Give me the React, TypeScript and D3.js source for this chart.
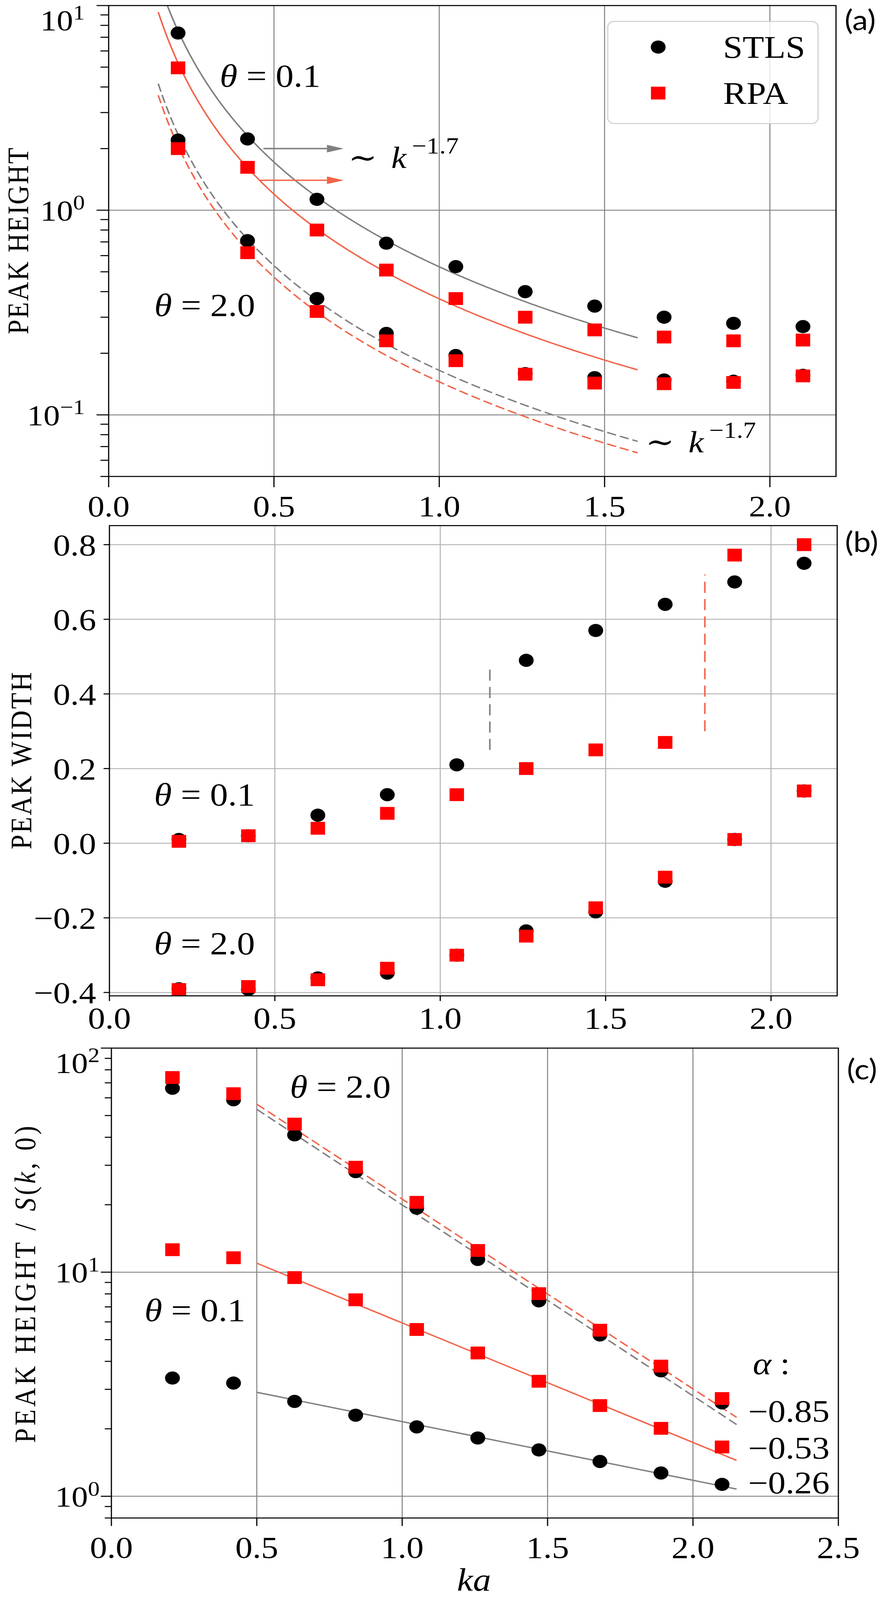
import React from 'react';
import * as d3 from 'd3';

// wave numbers of the ten simulated points (shared by all panels)
const ka = [0.21, 0.42, 0.63, 0.84, 1.05, 1.26, 1.47, 1.68, 1.89, 2.1];

// (a) peak height
const heightStlsT01 = [7.34, 2.23, 1.13, 0.69, 0.53, 0.4, 0.34, 0.3, 0.28, 0.27];
const heightRpaT01 = [4.96, 1.62, 0.8, 0.51, 0.37, 0.3, 0.26, 0.24, 0.23, 0.232];
const heightStlsT20 = [2.2, 0.71, 0.37, 0.25, 0.195, 0.159, 0.152, 0.148, 0.146, 0.156];
const heightRpaT20 = [2.0, 0.62, 0.32, 0.23, 0.184, 0.158, 0.143, 0.142, 0.144, 0.155];

// (a) power-law guides ~ k^-1.7, amplitude per curve
const guideExponent = -1.7;
const guideRange = [0.15, 1.6];
const guideAmpStlsT01 = 0.529;
const guideAmpRpaT01 = 0.369;
const guideAmpStlsT20 = 0.165;
const guideAmpRpaT20 = 0.145;

// (b) peak width
const widthStlsT01 = [0.01, 0.02, 0.075, 0.13, 0.21, 0.49, 0.57, 0.64, 0.7, 0.75];
const widthRpaT01 = [0.005, 0.02, 0.04, 0.08, 0.13, 0.2, 0.25, 0.27, 0.772, 0.8];
const widthStlsT20 = [-0.39, -0.392, -0.361, -0.348, -0.3, -0.235, -0.184, -0.102, 0.01, 0.14];
const widthRpaT20 = [-0.392, -0.384, -0.366, -0.335, -0.3, -0.249, -0.173, -0.091, 0.01, 0.14];

// (b) dashed markers of the transition
const transStls = { x: 1.15, y0: 0.25, y1: 0.465 };
const transRpa = { x: 1.8, y0: 0.3, y1: 0.72 };

// (c) peak height / S(k,0)
const ratioStlsT20 = [66.2, 58.8, 41.0, 28.1, 19.3, 11.4, 7.45, 5.25, 3.63, 2.61];
const ratioRpaT20 = [73.9, 62.6, 45.8, 29.4, 20.5, 12.5, 8.02, 5.51, 3.81, 2.73];
const ratioRpaT01 = [12.6, 11.6, 9.46, 7.53, 5.55, 4.36, 3.26, 2.54, 2.01, 1.66];
const ratioStlsT01 = [3.37, 3.2, 2.65, 2.3, 2.04, 1.82, 1.61, 1.43, 1.27, 1.13];

// (c) exponential fits, end points
const fitKa = [0.5, 2.15];
const fitStlsT01 = [2.91, 1.077];
const fitRpaT01 = [10.97, 1.446];
const fitStlsT20 = [53.3, 2.09];
const fitRpaT20 = [56.2, 2.25];
const alphaLabels = ['\u22120.85', '\u22120.53', '\u22120.26'];

const xTicksAB = [0, 0.5, 1, 1.5, 2];
const xTicksC = [0, 0.5, 1, 1.5, 2, 2.5];
const yTicksB = [-0.4, -0.2, 0, 0.2, 0.4, 0.6, 0.8];

const SERIF = '"Liberation Serif", "DejaVu Serif", serif';
const SANS = 'Lato, "Open Sans", sans-serif';
const GREY = '#808080';
const SALMON = '#f26449';
const RED = '#ff0000';
const GRID_DARK = '#7f7f7f';
const GRID_LIGHT = '#b0b0b0';

const W = 2272;
const H = 4624;

const xA = d3.scaleLinear().domain([0, 2.2]).range([278, 2139]);
const yA = d3.scaleLog().domain([0.05, 10]).range([1377, 16]);
const xB = d3.scaleLinear().domain([0, 2.2]).range([280, 2142]);
const yB = d3.scaleLinear().domain([-0.409, 0.851]).range([2878, 1519]);
const xC = d3.scaleLinear().domain([0, 2.5]).range([285, 2145]);
const yC = d3.scaleLog().domain([0.8, 100]).range([4387, 3029]);

const fmt1 = (v: number) => d3.format('.1f')(v).replace('-', '\u2212');
const expStr = (e: number) => (e < 0 ? '\u2212' + Math.abs(e) : String(e));

const MARK = 38;

const Dots = ({ xs, ys, x, y }: any) => (
  <g>
    {xs.map((k: number, i: number) => (
      <circle key={i} cx={x(k)} cy={y(ys[i])} r={MARK / 2} fill="#000" />
    ))}
  </g>
);

const Squares = ({ xs, ys, x, y }: any) => (
  <g>
    {xs.map((k: number, i: number) => (
      <rect key={i} x={x(k) - 18.5} y={y(ys[i]) - 18.5} width={37} height={37} fill={RED} />
    ))}
  </g>
);

const Theta = ({ x, y, v, size = 92 }: any) => (
  <text x={x} y={y} fontFamily={SERIF} fontSize={size}>
    <tspan fontStyle="italic">θ</tspan>
    {' = ' + v}
  </text>
);

const Arrow = ({ x0, x1, y, color }: any) => {
  const head = 43;
  return (
    <g>
      <line x1={x0} x2={x1 - head} y1={y} y2={y} stroke={color} strokeWidth={4} />
      <polygon points={`${x1},${y} ${x1 - head},${y - 11} ${x1 - head},${y + 11}`} fill={color} />
    </g>
  );
};

const PowerLaw = ({ x, y }: any) => (
  <text x={x} y={y} fontFamily={SERIF} fontSize={88}>
    {'\u223C'}
    <tspan dx={36} fontStyle="italic">
      k
    </tspan>
    <tspan dx={14} dy={-42} fontSize={66}>
      {'\u22121.7'}
    </tspan>
  </text>
);

// decade label "10^n"; the top one of a panel sits lower so it stays inside
const Pow10 = ({ x, y, v, top }: any) => (
  <text x={x} y={y + (top ? 72 : 30)} textAnchor="end" fontFamily={SERIF} fontSize={84}>
    10
    <tspan dy={-32} fontSize={60}>
      {expStr(Math.round(Math.log10(v)))}
    </tspan>
  </text>
);

const splitLog = (ticks: number[]) => {
  const majors = ticks.filter((v) => Math.abs(Math.log10(v) - Math.round(Math.log10(v))) < 1e-9);
  const minors = ticks.filter((v) => !majors.includes(v));
  return { majors, minors };
};

const PanelA = () => {
  const [l, r] = xA.range();
  const [b, t] = yA.range();
  const { majors, minors } = splitLog(yA.ticks());
  const kGrid = d3.range(0, 201).map((i) => guideRange[0] + (i * (guideRange[1] - guideRange[0])) / 200);
  const guide = (amp: number) =>
    d3
      .line<number>()
      .x((k) => xA(k))
      .y((k) => yA(amp * Math.pow(k, guideExponent)))(kGrid) as string;
  const guides = [
    { amp: guideAmpStlsT01, color: GREY, dash: undefined },
    { amp: guideAmpRpaT01, color: SALMON, dash: undefined },
    { amp: guideAmpStlsT20, color: GREY, dash: '24 10' },
    { amp: guideAmpRpaT20, color: SALMON, dash: '24 10' },
  ];
  const topMajor = d3.max(majors);
  return (
    <g>
      <defs>
        <clipPath id="clipA">
          <rect x={l} y={t} width={r - l} height={b - t} />
        </clipPath>
      </defs>
      {xTicksAB.slice(1).map((v) => (
        <line key={'gx' + v} x1={xA(v)} x2={xA(v)} y1={t} y2={b} stroke={GRID_DARK} strokeWidth={2.5} />
      ))}
      {majors.map((v) => (
        <line key={'gy' + v} x1={l} x2={r} y1={yA(v)} y2={yA(v)} stroke={GRID_DARK} strokeWidth={2.5} />
      ))}
      <g clipPath="url(#clipA)">
        {guides.map((g, i) => (
          <path key={i} d={guide(g.amp)} fill="none" stroke={g.color} strokeWidth={4} strokeDasharray={g.dash} />
        ))}
      </g>
      <Arrow x0={xA(0.468)} x1={xA(0.711)} y={yA(2.0)} color={GREY} />
      <Arrow x0={xA(0.458)} x1={xA(0.711)} y={yA(1.4)} color={SALMON} />
      <Dots xs={ka} ys={heightStlsT01} x={xA} y={yA} />
      <Squares xs={ka} ys={heightRpaT01} x={xA} y={yA} />
      <Dots xs={ka} ys={heightStlsT20} x={xA} y={yA} />
      <Squares xs={ka} ys={heightRpaT20} x={xA} y={yA} />
      <Theta x={xA(0.336)} y={yA(4.02)} v="0.1" />
      <Theta x={xA(0.138)} y={yA(0.304)} v="2.0" />
      <PowerLaw x={xA(0.725)} y={yA(1.61)} />
      <PowerLaw x={xA(1.624)} y={yA(0.0656)} />
      {/* legend */}
      <rect x={1555} y={62} width={538} height={295} rx={16} fill="#fff" fillOpacity={0.8} stroke="#d0d0d0" strokeWidth={3} />
      <circle cx={1684} cy={136} r={MARK / 2} fill="#000" />
      <rect x={1684 - 18.5} y={269 - 18.5} width={37} height={37} fill={RED} />
      <text x={1850} y={167} fontFamily={SERIF} fontSize={90}>
        STLS
      </text>
      <text x={1850} y={300} fontFamily={SERIF} fontSize={90}>
        RPA
      </text>
      <rect x={l} y={t} width={r - l} height={b - t} fill="none" stroke="#000" strokeWidth={3} />
      {majors.map((v) => (
        <g key={'ty' + v}>
          <line x1={l - 31} x2={l} y1={yA(v)} y2={yA(v)} stroke="#000" strokeWidth={3} />
          <Pow10 x={217} y={yA(v)} v={v} top={v === topMajor} />
        </g>
      ))}
      {minors.map((v) => (
        <line key={'my' + v} x1={l - 21} x2={l} y1={yA(v)} y2={yA(v)} stroke="#000" strokeWidth={3} />
      ))}
      {xTicksAB.map((v) => (
        <g key={'tx' + v}>
          <line x1={xA(v)} x2={xA(v)} y1={b} y2={b + 31} stroke="#000" strokeWidth={3} />
          <text x={xA(v)} y={1492} textAnchor="middle" fontFamily={SERIF} fontSize={86}>
            {fmt1(v)}
          </text>
        </g>
      ))}
      <text
        transform={`translate(72, ${(t + b) / 2}) rotate(-90)`}
        textAnchor="middle"
        fontFamily={SERIF}
        fontSize={76}
        textLength={539}
        lengthAdjust="spacing"
      >
        PEAK HEIGHT
      </text>
      <text x={2161} y={87} fontFamily={SANS} fontSize={80}>
        (a)
      </text>
    </g>
  );
};

const PanelB = () => {
  const [l, r] = xB.range();
  const [b, t] = yB.range();
  const trans = [
    { ...transStls, color: GREY },
    { ...transRpa, color: SALMON },
  ];
  return (
    <g>
      {xTicksAB.slice(1).map((v) => (
        <line key={'gx' + v} x1={xB(v)} x2={xB(v)} y1={t} y2={b} stroke={GRID_LIGHT} strokeWidth={2.5} />
      ))}
      {yTicksB.map((v) => (
        <line key={'gy' + v} x1={l} x2={r} y1={yB(v)} y2={yB(v)} stroke={GRID_LIGHT} strokeWidth={2.5} />
      ))}
      {trans.map((d, i) => (
        <line
          key={i}
          x1={xB(d.x)}
          x2={xB(d.x)}
          y1={yB(d.y0)}
          y2={yB(d.y1)}
          stroke={d.color}
          strokeWidth={4}
          strokeDasharray="32 18"
        />
      ))}
      <Dots xs={ka} ys={widthStlsT01} x={xB} y={yB} />
      <Squares xs={ka} ys={widthRpaT01} x={xB} y={yB} />
      <Dots xs={ka} ys={widthStlsT20} x={xB} y={yB} />
      <Squares xs={ka} ys={widthRpaT20} x={xB} y={yB} />
      <Theta x={xB(0.135)} y={yB(0.101)} v="0.1" />
      <Theta x={xB(0.135)} y={yB(-0.298)} v="2.0" />
      <rect x={l} y={t} width={r - l} height={b - t} fill="none" stroke="#000" strokeWidth={3} />
      {yTicksB.map((v) => (
        <g key={'ty' + v}>
          <line x1={l - 15} x2={l} y1={yB(v)} y2={yB(v)} stroke="#000" strokeWidth={3} />
          <text x={246} y={yB(v) + 31} textAnchor="end" fontFamily={SERIF} fontSize={88}>
            {fmt1(v)}
          </text>
        </g>
      ))}
      {xTicksAB.map((v) => (
        <g key={'tx' + v}>
          <line x1={xB(v)} x2={xB(v)} y1={b} y2={b + 15} stroke="#000" strokeWidth={3} />
          <text x={xB(v)} y={2972} textAnchor="middle" fontFamily={SERIF} fontSize={88}>
            {fmt1(v)}
          </text>
        </g>
      ))}
      <text
        transform={`translate(80, ${(t + b) / 2}) rotate(-90)`}
        textAnchor="middle"
        fontFamily={SERIF}
        fontSize={76}
        textLength={512}
        lengthAdjust="spacing"
      >
        PEAK WIDTH
      </text>
      <text x={2162} y={1595} fontFamily={SANS} fontSize={80}>
        (b)
      </text>
    </g>
  );
};

const PanelC = () => {
  const [l, r] = xC.range();
  const [b, t] = yC.range();
  const { majors, minors } = splitLog(yC.ticks());
  const fits = [
    { ys: fitStlsT01, color: GREY, dash: undefined },
    { ys: fitRpaT01, color: SALMON, dash: undefined },
    { ys: fitStlsT20, color: GREY, dash: '24 11' },
    { ys: fitRpaT20, color: SALMON, dash: '24 11' },
  ];
  const alphaY = [2.15, 1.47, 1.03];
  const topMajor = d3.max(majors);
  return (
    <g>
      {xTicksC.slice(1, -1).map((v) => (
        <line key={'gx' + v} x1={xC(v)} x2={xC(v)} y1={t} y2={b} stroke={GRID_DARK} strokeWidth={2.5} />
      ))}
      {majors.map((v) => (
        <line key={'gy' + v} x1={l} x2={r} y1={yC(v)} y2={yC(v)} stroke={GRID_DARK} strokeWidth={2.5} />
      ))}
      {fits.map((f, i) => (
        <line
          key={i}
          x1={xC(fitKa[0])}
          x2={xC(fitKa[1])}
          y1={yC(f.ys[0])}
          y2={yC(f.ys[1])}
          stroke={f.color}
          strokeWidth={4}
          strokeDasharray={f.dash}
        />
      ))}
      <Dots xs={ka} ys={ratioStlsT20} x={xC} y={yC} />
      <Squares xs={ka} ys={ratioRpaT20} x={xC} y={yC} />
      <Dots xs={ka} ys={ratioStlsT01} x={xC} y={yC} />
      <Squares xs={ka} ys={ratioRpaT01} x={xC} y={yC} />
      <Theta x={xC(0.614)} y={yC(60.2)} v="2.0" />
      <Theta x={xC(0.114)} y={yC(6.04)} v="0.1" />
      <text x={xC(2.206)} y={yC(3.51)} fontFamily={SERIF} fontSize={90}>
        <tspan fontStyle="italic">α</tspan>
        {' :'}
      </text>
      {alphaLabels.map((s, i) => (
        <text key={s} x={xC(2.19)} y={yC(alphaY[i])} fontFamily={SERIF} fontSize={90}>
          {s}
        </text>
      ))}
      <rect x={l} y={t} width={r - l} height={b - t} fill="none" stroke="#000" strokeWidth={3} />
      {majors.map((v) => (
        <g key={'ty' + v}>
          <line x1={l - 27} x2={l} y1={yC(v)} y2={yC(v)} stroke="#000" strokeWidth={3} />
          <Pow10 x={255} y={yC(v)} v={v} top={v === topMajor} />
        </g>
      ))}
      {minors.map((v) => (
        <line key={'my' + v} x1={l - 17} x2={l} y1={yC(v)} y2={yC(v)} stroke="#000" strokeWidth={3} />
      ))}
      {xTicksC.map((v) => (
        <g key={'tx' + v}>
          <line x1={xC(v)} x2={xC(v)} y1={b} y2={b + 23} stroke="#000" strokeWidth={3} />
          <text x={xC(v)} y={4502} textAnchor="middle" fontFamily={SERIF} fontSize={88}>
            {fmt1(v)}
          </text>
        </g>
      ))}
      <text x={xC(1.247)} y={4597} textAnchor="middle" fontFamily={SERIF} fontSize={92} fontStyle="italic">
        ka
      </text>
      <text
        transform={`translate(90, 3712) rotate(-90)`}
        textAnchor="middle"
        fontFamily={SERIF}
        fontSize={76}
        textLength={916}
        lengthAdjust="spacing"
      >
        {'PEAK HEIGHT / '}
        <tspan fontStyle="italic">S</tspan>(<tspan fontStyle="italic">k</tspan>, 0)
      </text>
      <text x={2167} y={3119} fontFamily={SANS} fontSize={80}>
        (c)
      </text>
    </g>
  );
};

// the drawing is laid out on a 2272 x 4624 grid and stretched onto the viewport
const App: React.FC = () => (
  <div style={{ margin: -8, width: W, height: '100vh', background: '#fff', overflow: 'hidden' }}>
    <svg
      width={W}
      height="100%"
      viewBox={`0 0 ${W} ${H}`}
      preserveAspectRatio="none"
      style={{ display: 'block' }}
    >
      <rect width={W} height={H} fill="#fff" />
      <PanelA />
      <PanelB />
      <PanelC />
    </svg>
  </div>
);

export default App;
